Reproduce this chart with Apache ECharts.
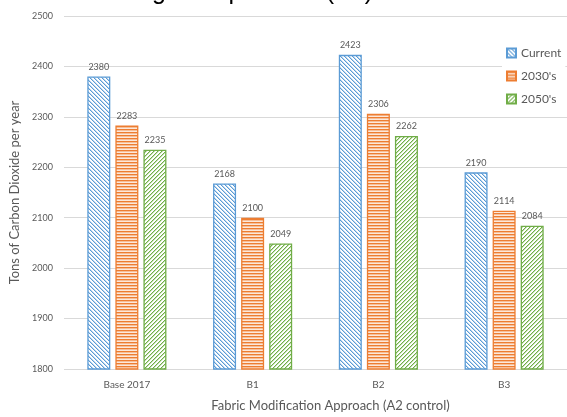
<!DOCTYPE html>
<html>
<head>
<meta charset="utf-8">
<script src="https://cdn.jsdelivr.net/npm/echarts@6/dist/echarts.min.js"></script>
<style>
  html, body { margin: 0; padding: 0; background: #ffffff; }
  #chart { width: 567px; height: 417px; }
</style>
</head>
<body>
<div id="chart"></div>
<script>
// Approaches along the x axis
const categories = ['Base 2017', 'B1', 'B2', 'B3'];
// Tons of CO2 per year for each period
const current = [2380, 2168, 2423, 2190];
const y2030s = [2283, 2100, 2306, 2114];
const y2050s = [2235, 2049, 2262, 2084];
const seriesNames = ['Current', "2030's", "2050's"];

const FONT = 'Lato, "Open Sans", sans-serif';

// Build a small repeating hatch tile; colourAt(x, y) returns an [r,g,b] for each pixel
function hatch(size, colourAt) {
  const c = document.createElement('canvas');
  c.width = size; c.height = size;
  const ctx = c.getContext('2d');
  const img = ctx.createImageData(size, size);
  for (let y = 0; y < size; y++) {
    for (let x = 0; x < size; x++) {
      const rgb = colourAt(x, y);
      const i = (y * size + x) * 4;
      img.data[i] = rgb[0]; img.data[i + 1] = rgb[1]; img.data[i + 2] = rgb[2]; img.data[i + 3] = 255;
    }
  }
  ctx.putImageData(img, 0, 0);
  return c;
}

const WHITE = [255, 255, 255];
// back-diagonal stripes in blue
const blueTile = hatch(8, (x, y) => {
  const m = ((x - y) % 4 + 4) % 4;
  return m === 0 ? [91, 155, 213] : (m === 1 ? [190, 215, 238] : WHITE);
});
// horizontal stripes in orange
const orangeTile = hatch(6, (x, y) => {
  const m = y % 3;
  return m === 0 ? [237, 125, 49] : (m === 1 ? [246, 190, 152] : [252, 232, 218]);
});
// forward-diagonal stripes in green
const greenTile = hatch(8, (x, y) => {
  const m = (x + y) % 4;
  return m === 0 ? [112, 173, 71] : (m === 1 ? [196, 224, 178] : WHITE);
});

const palette = [
  { tile: blueTile, border: '#5B9BD5' },
  { tile: orangeTile, border: '#ED7D31' },
  { tile: greenTile, border: '#70AD47' }
];

function barSeries(name, data, idx) {
  return {
    name: name,
    type: 'bar',
    data: data,
    barWidth: 23,
    barGap: '22%',
    itemStyle: {
      color: { image: palette[idx].tile, repeat: 'repeat' },
      borderColor: palette[idx].border,
      borderWidth: 1.3
    },
    label: {
      show: true,
      position: 'top',
      distance: 5,
      fontSize: 9,
      fontFamily: FONT,
      color: '#595959'
    },
    emphasis: { disabled: true }
  };
}

const chart = echarts.init(document.getElementById('chart'), null, { renderer: 'canvas' });

chart.setOption({
  animation: false,
  backgroundColor: '#ffffff',
  graphic: [{
    type: 'text',
    right: 194,
    top: -20,
    style: {
      text: 'Carbon emissions during the operation (A2)',
      font: '25px "Liberation Sans", Arial, sans-serif',
      fill: '#000000'
    }
  }],
  legend: {
    orient: 'vertical',
    left: 502,
    top: 44,
    itemWidth: 9,
    itemHeight: 9,
    itemGap: 11,
    icon: 'rect',
    backgroundColor: '#ffffff',
    padding: [3, 4, 3, 4],
    textStyle: { fontSize: 12, fontFamily: FONT, color: '#595959' },
    data: seriesNames
  },
  grid: {
    left: 64,
    top: 16,
    width: 508,
    height: 360,
    containLabel: false
  },
  xAxis: {
    type: 'category',
    data: categories,
    axisLine: { show: false },
    axisTick: { show: false },
    axisLabel: { fontSize: 10, fontFamily: FONT, color: '#595959', margin: 11 },
    name: 'Fabric Modification Approach (A2 control)',
    nameLocation: 'middle',
    nameGap: 30,
    nameTextStyle: { fontSize: 13, fontFamily: FONT, color: '#595959', padding: [0, 0, 0, 30] }
  },
  yAxis: {
    type: 'value',
    min: 1800,
    max: 2500,
    interval: 100,
    axisLine: { show: false },
    axisTick: { show: false },
    splitLine: { lineStyle: { color: '#D9D9D9', width: 1 } },
    axisLabel: {
      fontSize: 9, fontFamily: FONT, color: '#595959', margin: 11,
      formatter: (v) => String(v)
    },
    name: 'Tons of Carbon Dioxide per year',
    nameLocation: 'middle',
    nameGap: 31,
    nameTextStyle: { fontSize: 13, fontFamily: FONT, color: '#595959' }
  },
  series: [
    barSeries(seriesNames[0], current, 0),
    barSeries(seriesNames[1], y2030s, 1),
    barSeries(seriesNames[2], y2050s, 2)
  ]
});
</script>
</body>
</html>
